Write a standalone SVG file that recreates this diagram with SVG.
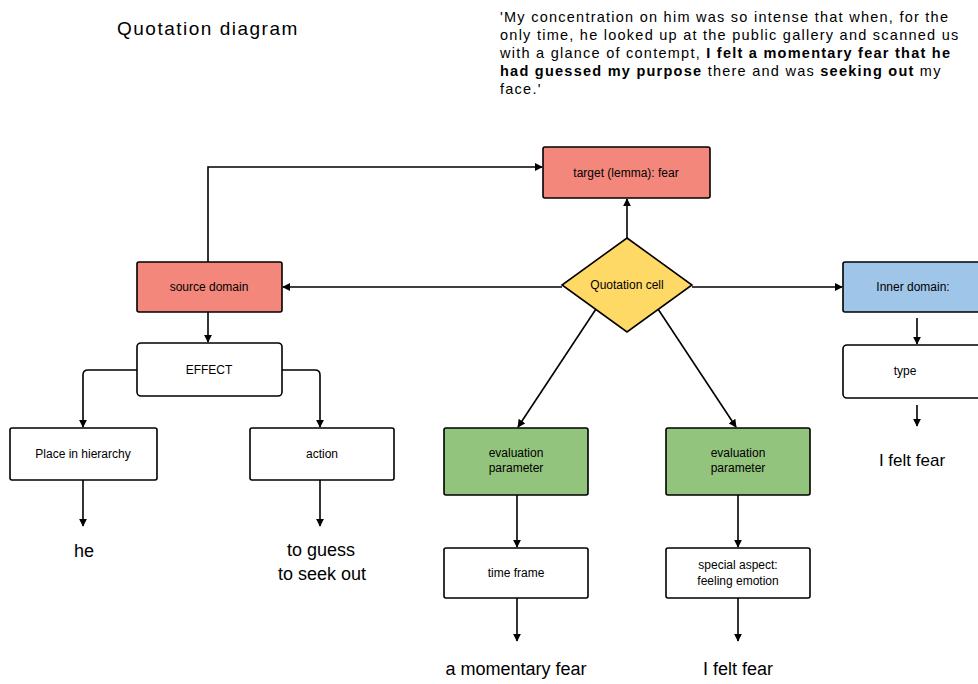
<svg xmlns="http://www.w3.org/2000/svg" width="978" height="684" viewBox="0 0 978 684">
<defs>
<marker id="ah" viewBox="0 0 10 10" refX="9" refY="5" markerWidth="5" markerHeight="5" orient="auto" markerUnits="strokeWidth">
<path d="M0,0 L10,5 L0,10 z" fill="#000"/>
</marker>
</defs>
<style>
text{font-family:"Liberation Sans",Arial,sans-serif;fill:#000}
.box{stroke:#000;stroke-width:1.6}
.red{fill:#f4877b}
.yel{fill:#ffd966}
.grn{fill:#93c47d}
.blu{fill:#9fc5e8}
.wht{fill:#fff}
.lbl{font-size:12px;text-anchor:middle}
.leaf{font-size:18px;text-anchor:middle}
.q{font-size:14.5px;letter-spacing:1.25px}
.b{font-weight:bold}
.con{fill:none;stroke:#000;stroke-width:1.6;marker-end:url(#ah)}
</style>
<rect width="978" height="684" fill="#fff"/>
<text x="117" y="35" style="font-size:19px;letter-spacing:1.5px">Quotation diagram</text>
<g id="quote">
<text x="500" y="22" class="q">'My concentration on him was so intense that when, for the</text>
<text x="500" y="40" class="q">only time, he looked up at the public gallery and scanned us</text>
<text x="500" y="58" class="q">with a glance of contempt, <tspan class="b">I felt a momentary fear that he</tspan></text>
<text x="500" y="76" class="q"><tspan class="b">had guessed my purpose</tspan> there and was <tspan class="b">seeking out</tspan> my</text>
<text x="500" y="94" class="q">face.'</text>
</g>
<g id="connectors">
<path class="con" d="M627,238 L627,199"/>
<path class="con" d="M562,287 L283,287"/>
<path class="con" d="M692,287 L842,287"/>
<path class="con" d="M208,262 L208,167 L542,167"/>
<path class="con" d="M208,312 L208,342"/>
<path class="con" d="M137,370 L88,370 Q83,370 83,375 L83,427"/>
<path class="con" d="M282,370 L315,370 Q320,370 320,375 L320,427"/>
<path class="con" d="M83,480 L83,526"/>
<path class="con" d="M320,480 L320,526"/>
<path class="con" d="M596,309 L518,427"/>
<path class="con" d="M658,309 L736,427"/>
<path class="con" d="M517,495 L517,547"/>
<path class="con" d="M738,495 L738,547"/>
<path class="con" d="M517,598 L517,641"/>
<path class="con" d="M738,598 L738,641"/>
<path class="con" d="M917,318 L917,344"/>
<path class="con" d="M917,405 L917,426"/>
</g>
<g id="target">
<rect class="box red" x="543" y="147" width="167" height="51" rx="2"/>
<text class="lbl" x="626" y="177">target (lemma): fear</text>
</g>
<g id="quotation-cell">
<polygon class="box yel" points="627,238 692,285 627,332 562,285"/>
<text class="lbl" x="627" y="289">Quotation cell</text>
</g>
<g id="source-domain">
<rect class="box red" x="137" y="262" width="145" height="50" rx="2"/>
<text class="lbl" x="209" y="291">source domain</text>
</g>
<g id="inner-domain">
<rect class="box blu" x="843" y="262" width="140" height="50" rx="2"/>
<text class="lbl" x="913" y="291">Inner domain:</text>
</g>
<g id="type">
<rect class="box wht" x="843" y="345" width="140" height="53" rx="4"/>
<text class="lbl" x="905" y="375">type</text>
</g>
<text class="leaf" x="912" y="466" style="font-size:17px">I felt fear</text>
<g id="effect">
<rect class="box wht" x="137" y="343" width="145" height="53" rx="4"/>
<text class="lbl" x="209" y="374">EFFECT</text>
</g>
<g id="place">
<rect class="box wht" x="10" y="428" width="147" height="52" rx="2"/>
<text class="lbl" x="83" y="458">Place in hierarchy</text>
</g>
<g id="action">
<rect class="box wht" x="250" y="428" width="144" height="52" rx="2"/>
<text class="lbl" x="322" y="458">action</text>
</g>
<text class="leaf" x="84" y="557">he</text>
<text class="leaf" x="321" y="556">to guess</text>
<text class="leaf" x="322" y="580">to seek out</text>
<g id="eval1">
<rect class="box grn" x="444" y="428" width="144" height="67" rx="2"/>
<text class="lbl" x="516" y="457">evaluation</text>
<text class="lbl" x="516" y="472">parameter</text>
</g>
<g id="eval2">
<rect class="box grn" x="666" y="428" width="144" height="67" rx="2"/>
<text class="lbl" x="738" y="457">evaluation</text>
<text class="lbl" x="738" y="472">parameter</text>
</g>
<g id="time-frame">
<rect class="box wht" x="444" y="548" width="144" height="50" rx="2"/>
<text class="lbl" x="516" y="577">time frame</text>
</g>
<g id="special">
<rect class="box wht" x="666" y="548" width="144" height="50" rx="2"/>
<text class="lbl" x="738" y="569">special aspect:</text>
<text class="lbl" x="738" y="585">feeling emotion</text>
</g>
<text class="leaf" x="516" y="675">a momentary fear</text>
<text class="leaf" x="738" y="675">I felt fear</text>
</svg>
